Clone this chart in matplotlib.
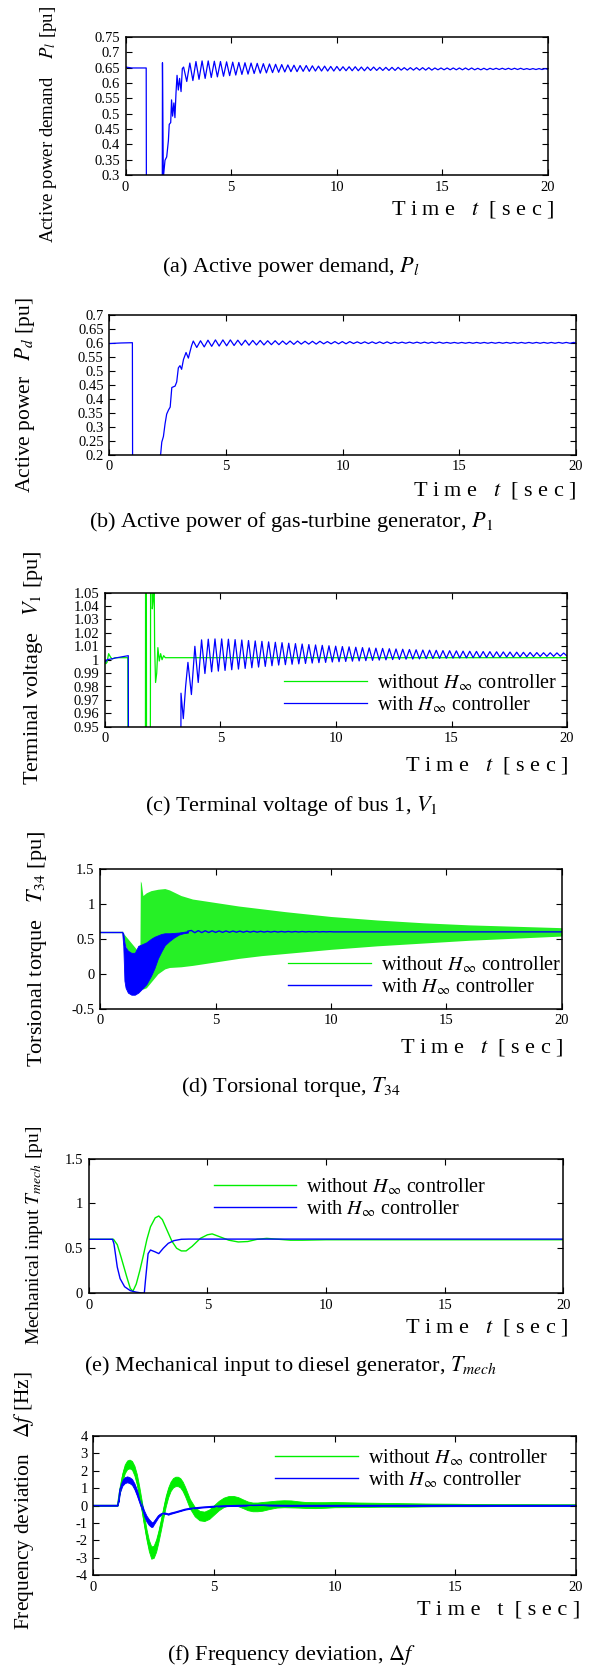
import numpy as np
import matplotlib
matplotlib.use('Agg')
import matplotlib.pyplot as plt

plt.rcParams['font.family'] = ['Liberation Serif', 'DejaVu Serif']
plt.rcParams['mathtext.fontset'] = 'stix'
plt.rcParams['axes.unicode_minus'] = False

GREEN = '#00ee00'
BLUE = '#0000ff'
W, H = 593.0, 1669.0

# ---------------- (a) active power demand P_l ----------------
pl_t = [0, 0.3, 0.6, 0.98, 0.99, 1.74, 1.75, 1.79, 1.87, 1.95, 2.03, 2.07, 2.14,
        2.18, 2.23, 2.29, 2.34, 2.39, 2.44, 2.50, 2.56, 2.63, 2.69, 2.75]
pl_v = [0.652, 0.649, 0.649, 0.649, 0.2, 0.2, 0.666, 0.29, 0.348, 0.359, 0.412, 0.465,
        0.471, 0.545, 0.492, 0.535, 0.487, 0.567, 0.625, 0.577, 0.615, 0.572, 0.647, 0.652]
pl_osc_t0, pl_osc_half = 2.9, 0.145
pl_lo = [0.605, 0.608, 0.612, 0.615, 0.618, 0.620, 0.622, 0.624, 0.626, 0.628,
         0.629, 0.631, 0.632, 0.633, 0.634, 0.635, 0.636, 0.637, 0.637, 0.638,
         0.638, 0.639, 0.639, 0.639, 0.639, 0.640, 0.640, 0.640, 0.640, 0.640,
         0.641, 0.641, 0.641, 0.641, 0.641, 0.642, 0.642, 0.642, 0.642, 0.642,
         0.642, 0.643, 0.643, 0.643, 0.643, 0.643, 0.643, 0.643, 0.643, 0.643,
         0.644, 0.644, 0.644, 0.644, 0.644, 0.644, 0.644, 0.644, 0.644, 0.644]
pl_hi = [0.665, 0.670, 0.672, 0.672, 0.671, 0.670, 0.669, 0.668, 0.667, 0.666,
         0.665, 0.664, 0.663, 0.662, 0.661, 0.660, 0.659, 0.658, 0.657, 0.657,
         0.656, 0.655, 0.655, 0.654, 0.654, 0.653, 0.653, 0.653, 0.652, 0.652,
         0.652, 0.651, 0.651, 0.651, 0.651, 0.650, 0.650, 0.650, 0.650, 0.650,
         0.649, 0.649, 0.649, 0.649, 0.649, 0.649, 0.649, 0.648, 0.648, 0.648,
         0.648, 0.648, 0.648, 0.648, 0.648, 0.647, 0.647, 0.647, 0.647, 0.647]

# ---------------- (b) active power of gas turbine P_d ----------------
pd_t = [0, 0.5, 0.99, 1.0, 2.2, 2.25, 2.32, 2.39, 2.46, 2.54, 2.61, 2.68, 2.82,
        2.89, 2.96, 3.03, 3.1, 3.18, 3.29, 3.39, 3.46, 3.53, 3.6]
pd_v = [0.597, 0.599, 0.6, 0.1, 0.2, 0.245, 0.265, 0.31, 0.345, 0.36, 0.37, 0.44,
        0.445, 0.46, 0.51, 0.518, 0.505, 0.54, 0.565, 0.545, 0.568, 0.59, 0.606]
pd_osc_t0, pd_osc_half = 3.75, 0.16
pd_lo = [0.583, 0.585, 0.587, 0.588, 0.589, 0.590, 0.591, 0.591, 0.592, 0.592,
         0.593, 0.593, 0.594, 0.594, 0.595, 0.595, 0.595, 0.596, 0.596, 0.596,
         0.596, 0.597, 0.597, 0.597, 0.597, 0.597, 0.597, 0.598, 0.598, 0.598,
         0.598, 0.598, 0.598, 0.598, 0.598, 0.598, 0.598, 0.598, 0.598, 0.598,
         0.598, 0.598, 0.598, 0.598, 0.598, 0.598, 0.598, 0.598, 0.598, 0.598,
         0.598, 0.598]
pd_hi = [0.607, 0.609, 0.610, 0.610, 0.610, 0.609, 0.609, 0.608, 0.608, 0.607,
         0.607, 0.606, 0.606, 0.606, 0.605, 0.605, 0.605, 0.604, 0.604, 0.604,
         0.604, 0.603, 0.603, 0.603, 0.603, 0.603, 0.602, 0.602, 0.602, 0.602,
         0.602, 0.602, 0.602, 0.601, 0.601, 0.601, 0.601, 0.601, 0.601, 0.601,
         0.601, 0.601, 0.601, 0.601, 0.601, 0.601, 0.601, 0.601, 0.601, 0.601,
         0.601, 0.601]

# ---------------- (c) terminal voltage V_1 ----------------
vg_t = [0, 0.05, 0.1, 0.17, 0.25, 0.32, 0.45, 1.0, 1.01, 1.76, 1.77, 1.80, 1.81,
        1.97, 1.99, 2.02, 2.06, 2.10, 2.14, 2.16, 2.20, 2.25, 2.30, 2.36, 2.42,
        2.48, 2.55, 2.62, 20]
vg_v = [1.0, 0.997, 0.998, 1.0045, 1.002, 1.0005, 1.0015, 1.0015, 0.9, 0.9, 1.1,
        1.1, 0.9, 0.9, 1.1, 1.1, 1.038, 1.045, 1.06, 1.01, 0.983, 0.99, 1.009,
        0.999, 1.0045, 1.0, 1.003, 1.0015, 1.0015]
vb_t = [0, 0.05, 0.1, 0.3, 0.5, 0.7, 0.9, 1.02, 1.03, 3.29, 3.30, 3.40, 3.50,
        3.60, 3.75]
vb_v = [1.0, 0.9985, 1.0, 1.0006, 1.0014, 1.002, 1.0026, 1.003, 0.9, 0.9, 0.975,
        0.956, 0.98, 0.998, 0.974]
vb_osc_t0, vb_osc_half = 3.9, 0.145
vb_hi = [1.0100, 1.0148, 1.0153, 1.0155, 1.0155, 1.0153, 1.0150, 1.0147, 1.0143, 1.0140,
         1.0137, 1.0133, 1.0130, 1.0127, 1.0123, 1.0120, 1.0117, 1.0113, 1.0110, 1.0107,
         1.0104, 1.0101, 1.0098, 1.0096, 1.0093, 1.0090, 1.0088, 1.0086, 1.0084, 1.0082,
         1.0080, 1.0078, 1.0076, 1.0074, 1.0072, 1.0071, 1.0070, 1.0068, 1.0067, 1.0066,
         1.0064, 1.0063, 1.0062, 1.0061, 1.0060, 1.0059, 1.0058, 1.0057, 1.0056, 1.0055,
         1.0054, 1.0053, 1.0052, 1.0052, 1.0051, 1.0050, 1.0050]
vb_lo = [0.9830, 0.9897, 0.9910, 0.9915, 0.9920, 0.9925, 0.9930, 0.9935, 0.9940, 0.9945,
         0.9950, 0.9955, 0.9960, 0.9963, 0.9966, 0.9969, 0.9972, 0.9975, 0.9978, 0.9980,
         0.9983, 0.9985, 0.9987, 0.9989, 0.9991, 0.9993, 0.9995, 0.9997, 0.9999, 1.0001,
         1.0002, 1.0004, 1.0005, 1.0006, 1.0008, 1.0009, 1.0010, 1.0011, 1.0012, 1.0013,
         1.0014, 1.0015, 1.0016, 1.0017, 1.0018, 1.0019, 1.0020, 1.0020, 1.0021, 1.0022,
         1.0023, 1.0024, 1.0025, 1.0025, 1.0026, 1.0027, 1.0027]

# ---------------- (d) torsional torque T_34 ----------------
tg_t = [0.95, 1.0, 1.2, 1.4, 1.6, 1.72, 1.74, 1.78, 1.85, 2.0, 2.2, 2.5, 2.8, 3.0,
        3.5, 4.0, 5.0, 6.0, 7.0, 8.0, 10, 12, 14, 16, 18, 20]
tg_hi = [0.6, 0.58, 0.5, 0.42, 0.34, 0.3, 1.33, 1.3, 1.12, 1.16, 1.19, 1.21, 1.22,
         1.2, 1.12, 1.07, 1.02, 0.97, 0.93, 0.89, 0.82, 0.77, 0.73, 0.7, 0.68, 0.66]
tg_lo = [0.6, 0.5, 0.3, 0.28, 0.28, 0.28, 0.0, -0.2, -0.22, -0.2, -0.12, 0.0, 0.07,
         0.09, 0.1, 0.12, 0.17, 0.22, 0.26, 0.29, 0.35, 0.4, 0.44, 0.48, 0.51, 0.54]
tb_t = [0.95, 1.0, 1.05, 1.1, 1.2, 1.35, 1.5, 1.65, 1.8, 2.0, 2.2, 2.35, 2.5, 2.65,
        2.8, 3.0, 3.2, 3.4, 3.6, 3.8]
tb_hi = [0.6, 0.58, 0.45, 0.38, 0.33, 0.3, 0.3, 0.4, 0.42, 0.45, 0.5, 0.53, 0.55,
         0.57, 0.58, 0.58, 0.585, 0.59, 0.6, 0.61]
tb_lo = [0.6, 0.4, -0.1, -0.2, -0.27, -0.3, -0.3, -0.27, -0.22, -0.15, -0.03, 0.08,
         0.22, 0.32, 0.41, 0.47, 0.52, 0.56, 0.58, 0.59]
tb_osc_t0, tb_osc_half = 3.95, 0.15
tb_osc_hi = [0.62, 0.618, 0.616, 0.615, 0.614, 0.613, 0.612, 0.611, 0.61, 0.609, 0.608,
             0.607, 0.607, 0.606, 0.606, 0.605, 0.605, 0.604, 0.604, 0.603, 0.603]
tb_osc_lo = [0.588, 0.59, 0.591, 0.592, 0.593, 0.594, 0.595, 0.595, 0.596, 0.596, 0.597,
             0.597, 0.597, 0.598, 0.598, 0.598, 0.599, 0.599, 0.599, 0.6, 0.6]
t34_steady = 0.6

# ---------------- (e) mechanical input T_mech ----------------
mg_t = [0, 1.04, 1.2, 1.35, 1.6, 1.75, 1.86, 2.0, 2.15, 2.3, 2.45, 2.6, 2.8, 2.95,
        3.1, 3.3, 3.5, 3.7, 3.9, 4.1, 4.35, 4.7, 5.0, 5.2, 5.5, 5.9, 6.3, 6.7, 7.1,
        7.5, 8.0, 8.5, 9.0, 10, 20]
mg_v = [0.6, 0.6, 0.54, 0.41, 0.18, 0.05, 0.02, 0.1, 0.25, 0.42, 0.6, 0.74, 0.84,
        0.86, 0.82, 0.7, 0.58, 0.5, 0.47, 0.47, 0.52, 0.61, 0.65, 0.66, 0.63, 0.59,
        0.57, 0.575, 0.6, 0.61, 0.6, 0.59, 0.59, 0.595, 0.595]
mb_t = [0, 1.0, 1.06, 1.12, 1.2, 1.32, 1.51, 1.75, 1.99, 2.23, 2.34, 2.39, 2.5, 2.6,
        2.79, 2.95, 3.14, 3.35, 3.59, 3.9, 4.22, 20]
mb_v = [0.6, 0.6, 0.55, 0.44, 0.29, 0.16, 0.07, 0.026, 0.01, 0.0, 0.0, 0.145, 0.44,
        0.48, 0.46, 0.44, 0.5, 0.555, 0.585, 0.6, 0.602, 0.602]

# ---------------- (f) frequency deviation ----------------
fg_t = [0, 1.0, 1.1, 1.2, 1.3, 1.4, 1.5, 1.6, 1.7, 1.8, 1.9, 2.0, 2.1, 2.2, 2.3,
        2.4, 2.5, 2.6, 2.7, 2.8, 2.9, 3.0, 3.1, 3.2, 3.3, 3.4, 3.5, 3.6, 3.7, 3.8,
        3.9, 4.0, 4.2, 4.4, 4.6, 4.8, 5.0, 5.2, 5.4, 5.6, 5.8, 6.0, 6.2, 6.4, 6.6,
        6.8, 7.0, 7.3, 7.6, 7.9, 8.2, 8.5, 8.8, 9.2, 9.6, 10, 11, 12, 13, 14, 15,
        16, 17, 18, 19, 20]
fg_mid = [0, 0, 0.9, 1.6, 2.1, 2.33, 2.38, 2.3, 2.0, 1.5, 0.8, 0.0, -0.85, -1.65,
          -2.3, -2.7, -2.65, -2.3, -1.75, -1.1, -0.4, 0.25, 0.75, 1.1, 1.3, 1.38,
          1.38, 1.3, 1.1, 0.8, 0.45, 0.1, -0.35, -0.58, -0.62, -0.5, -0.25, 0.0,
          0.18, 0.27, 0.28, 0.22, 0.1, -0.02, -0.08, -0.08, -0.05, 0.02, 0.08, 0.1,
          0.09, 0.06, 0.03, 0.02, 0.03, 0.05, 0.04, 0.04, 0.03, 0.03, 0.03, 0.02,
          0.02, 0.02, 0.02, 0.02]
fg_band = [0, 0, 0.15, 0.25, 0.25, 0.25, 0.25, 0.25, 0.28, 0.3, 0.3, 0.3, 0.3, 0.3,
           0.32, 0.35, 0.35, 0.35, 0.32, 0.3, 0.3, 0.3, 0.28, 0.27, 0.27, 0.27,
           0.27, 0.27, 0.27, 0.27, 0.27, 0.27, 0.27, 0.27, 0.27, 0.27, 0.27, 0.27,
           0.27, 0.27, 0.27, 0.26, 0.25, 0.25, 0.25, 0.25, 0.25, 0.22, 0.2, 0.2,
           0.2, 0.18, 0.17, 0.17, 0.16, 0.15, 0.13, 0.11, 0.1, 0.08, 0.07, 0.06,
           0.05, 0.05, 0.04, 0.04]
fb_t = [0, 1.0, 1.05, 1.1, 1.2, 1.3, 1.4, 1.5, 1.6, 1.7, 1.8, 1.9, 2.0, 2.1, 2.2,
        2.3, 2.4, 2.45, 2.5, 2.6, 2.7, 2.8, 2.9, 3.0, 3.1, 3.2, 3.4, 3.6, 3.8, 4.0,
        4.5, 5.0, 5.5, 6.0, 7.0, 8.0, 20]
fb_mid = [0, 0, 0.3, 0.9, 1.3, 1.45, 1.5, 1.45, 1.35, 1.1, 0.75, 0.35, -0.05, -0.45,
          -0.75, -0.95, -1.08, -1.1, -1.0, -0.8, -0.6, -0.5, -0.45, -0.45, -0.5,
          -0.45, -0.38, -0.3, -0.22, -0.17, -0.1, -0.05, -0.02, 0.0, 0.02, 0.0, 0.0]
fb_band = [0, 0, 0.05, 0.15, 0.17, 0.17, 0.17, 0.17, 0.17, 0.17, 0.17, 0.17, 0.17,
           0.17, 0.17, 0.17, 0.15, 0.12, 0.1, 0.08, 0.06, 0.05, 0.04, 0.03, 0.03,
           0.03, 0.02, 0.02, 0.02, 0.02, 0.02, 0.02, 0.02, 0.02, 0.02, 0.02, 0.02]

xticks = [0, 5, 10, 15, 20]
leg_labels = ['without $H_{\\infty}$ controller', 'with $H_{\\infty}$ controller']


def zigzag(t0, half, first, second):
    v = np.column_stack([first, second]).ravel()
    return t0 + half * np.arange(len(v)), v


def rect(l, r, t, b):
    return [l / W, 1 - b / H, (r - l) / W, (b - t) / H]


def make_axes(fig, box, ylim, yticks):
    ax = fig.add_axes(rect(*box))
    ax.set_xlim(0, 20)
    ax.set_ylim(*ylim)
    ax.set_xticks(xticks)
    ax.set_yticks(yticks)
    ax.set_xticklabels(['%g' % x for x in xticks])
    ax.set_yticklabels(['%g' % round(y, 3) for y in yticks])
    ax.tick_params(direction='in', top=True, right=True, length=4, width=0.8,
                   labelsize=10.5, pad=4)
    for s in ax.spines.values():
        s.set_linewidth(1.1)
    return ax


def texts(fig, ylab, ylab_xy, ylab_fs, time_xy, caption, cap_y, upright_t=False):
    fig.text(ylab_xy[0] / W, 1 - ylab_xy[1] / H, ylab, rotation=90, ha='center',
             va='bottom', fontsize=ylab_fs)
    tl = 'T i m e   t  [ s e c ]' if upright_t else 'T i m e   $t$  [ s e c ]'
    fig.text(time_xy[0] / W, 1 - time_xy[1] / H, tl, ha='right', va='center',
             fontsize=16)
    fig.text(291 / W, 1 - cap_y / H, caption, ha='center', va='center', fontsize=16)


def legend(ax, fig, handles, x, y):
    ax.legend(handles, leg_labels, loc='center left',
              bbox_to_anchor=(x / W, 1 - y / H), bbox_transform=fig.transFigure,
              frameon=False, fontsize=14.5, handlelength=4.1, handletextpad=0.5,
              labelspacing=0.05, borderpad=0, borderaxespad=0)


fig = plt.figure(figsize=(W / 100, H / 100), dpi=100)

# (a)
ax = make_axes(fig, (125.5, 548, 37, 175), (0.3, 0.75), np.arange(0.3, 0.751, 0.05))
ot, ov = zigzag(pl_osc_t0, pl_osc_half, pl_lo, pl_hi)
ax.plot(np.concatenate([pl_t, ot]), np.concatenate([pl_v, ov]), color=BLUE, lw=0.9)
texts(fig, 'Active power demand    $P_l$ [pu]', (48.5, 243), 13.5, (554, 210),
      '(a) Active power demand, $P_l$', 267)

# (b)
ax = make_axes(fig, (109.3, 575.8, 314.7, 454.7), (0.2, 0.7), np.arange(0.2, 0.701, 0.05))
ot, ov = zigzag(pd_osc_t0, pd_osc_half, pd_lo, pd_hi)
ax.plot(np.concatenate([pd_t, ot]), np.concatenate([pd_v, ov]), color=BLUE, lw=0.9)
texts(fig, 'Active power   $P_d$ [pu]', (24.6, 493), 15.5, (576.6, 490),
      '(b) Active power of gas-turbine generator, $P_1$', 521.7)

# (c)
ax = make_axes(fig, (104.7, 567.1, 592.7, 726.7), (0.95, 1.05), np.arange(0.95, 1.0501, 0.01))
g, = ax.plot(vg_t, vg_v, color=GREEN, lw=0.9)
ot, ov = zigzag(vb_osc_t0, vb_osc_half, vb_hi, vb_lo)
b, = ax.plot(np.concatenate([vb_t, ot]), np.concatenate([vb_v, ov]), color=BLUE, lw=0.9)
legend(ax, fig, [g, b], 284, 694)
texts(fig, 'Terminal voltage   $V_1$ [pu]', (33.5, 785), 16, (568, 765),
      '(c) Terminal voltage of bus 1, $V_1$', 806)

# (d)
ax = make_axes(fig, (100.2, 561.8, 869, 1008.7), (-0.5, 1.5), [-0.5, 0, 0.5, 1, 1.5])
ax.fill_between(tg_t, tg_lo, tg_hi, color=GREEN, alpha=0.85, lw=0)
g, = ax.plot([0, tg_t[0]], [t34_steady, t34_steady], color=GREEN, lw=0.9)
ax.fill_between(tb_t, tb_lo, tb_hi, color=BLUE, lw=0.6, ec=BLUE)
ot, ov = zigzag(tb_osc_t0, tb_osc_half, tb_osc_hi, tb_osc_lo)
bt = np.concatenate([[0, tb_t[0]], [tb_t[-1]], ot, [20]])
bv = np.concatenate([[t34_steady, t34_steady], [tb_hi[-1]], ov, [t34_steady]])
b, = ax.plot(bt[:2], bv[:2], color=BLUE, lw=1.0)
ax.plot(bt[2:], bv[2:], color=BLUE, lw=1.0)
legend(ax, fig, [g, b], 288, 976)
texts(fig, 'Torsional torque   $T_{34}$ [pu]', (36.9, 1066.7), 16, (563, 1047),
      '(d) Torsional torque, $T_{34}$', 1086.7)

# (e)
ax = make_axes(fig, (88.8, 563.3, 1158.7, 1293), (0, 1.5), [0, 0.5, 1, 1.5])
g, = ax.plot(mg_t, mg_v, color=GREEN, lw=1.0)
b, = ax.plot(mb_t, mb_v, color=BLUE, lw=1.0)
legend(ax, fig, [g, b], 213.6, 1198)
texts(fig, 'Mechanical input $T_{mech}$ [pu]', (35, 1345), 14, (568, 1328),
      '(e) Mechanical input to diesel generator, $T_{mech}$', 1366)

# (f)
ax = make_axes(fig, (93.4, 575.8, 1435.7, 1575.3), (-4, 4), list(range(-4, 5)))
fg_mid, fg_band = np.array(fg_mid), np.array(fg_band)
fb_mid, fb_band = np.array(fb_mid), np.array(fb_band)
ax.fill_between(fg_t, fg_mid - fg_band, fg_mid + fg_band, color=GREEN, lw=0.6, ec=GREEN)
g, = ax.plot(fg_t, fg_mid, color=GREEN, lw=1.0)
ax.fill_between(fb_t, fb_mid - fb_band, fb_mid + fb_band, color=BLUE, lw=0.6, ec=BLUE)
b, = ax.plot(fb_t, fb_mid, color=BLUE, lw=1.0)
legend(ax, fig, [g, b], 275, 1469)
texts(fig, 'Frequency deviation   $\\Delta f$ [Hz]', (23.6, 1630), 15.5, (580, 1610),
      '(f) Frequency deviation, $\\Delta f$', 1655, upright_t=True)

fig.savefig('out.png', dpi=100)
